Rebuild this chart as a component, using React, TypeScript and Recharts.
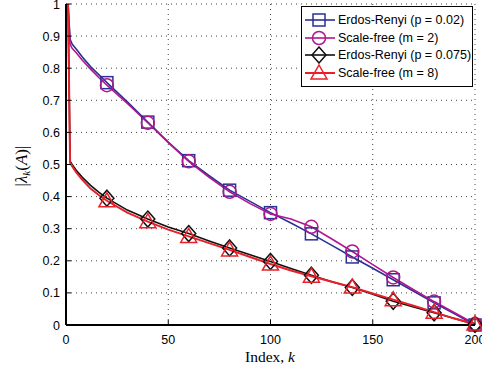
import React from "react";
import {
  LineChart,
  Line,
  XAxis,
  YAxis,
  CartesianGrid,
  Label,
} from "recharts";

document.body.style.margin = "0";

const kValues = [1, 2, 3, 5, 8, 12, 16, 20, 30, 40, 50, 60, 70, 80, 90, 100, 110, 120, 130, 140, 150, 160, 170, 180, 190, 200];

const erdos002 = [1.0, 0.89, 0.875, 0.86, 0.835, 0.805, 0.78, 0.755, 0.695, 0.632, 0.57, 0.512, 0.465, 0.42, 0.385, 0.35, 0.318, 0.284, 0.248, 0.212, 0.177, 0.141, 0.105, 0.069, 0.035, 0.0];
const scaleFree2 = [1.0, 0.875, 0.862, 0.848, 0.825, 0.797, 0.771, 0.747, 0.69, 0.63, 0.568, 0.51, 0.46, 0.415, 0.378, 0.346, 0.33, 0.306, 0.268, 0.229, 0.188, 0.148, 0.11, 0.073, 0.038, 0.003];
const erdos0075 = [1.0, 0.51, 0.5, 0.482, 0.46, 0.435, 0.414, 0.395, 0.358, 0.33, 0.305, 0.285, 0.262, 0.24, 0.219, 0.198, 0.176, 0.155, 0.135, 0.117, 0.096, 0.074, 0.056, 0.038, 0.02, 0.002];
const scaleFree8 = [1.0, 0.505, 0.495, 0.475, 0.452, 0.425, 0.405, 0.387, 0.35, 0.322, 0.297, 0.276, 0.255, 0.234, 0.212, 0.19, 0.17, 0.152, 0.135, 0.118, 0.098, 0.079, 0.06, 0.04, 0.02, 0.003];

const xTicks = [0, 50, 100, 150, 200];
const yTicks = [0, 0.1, 0.2, 0.3, 0.4, 0.5, 0.6, 0.7, 0.8, 0.9, 1];

const data = kValues.map((k, i) => ({
  k,
  er1: erdos002[i],
  sf1: scaleFree2[i],
  er2: erdos0075[i],
  sf2: scaleFree8[i],
}));

const SANS = "'Liberation Sans', Arial, Helvetica, sans-serif";
const SERIF = "'Liberation Serif', 'Times New Roman', serif";

type Shape = "square" | "circle" | "diamond" | "triangle";

const series: { key: string; name: string; color: string; shape: Shape; width: number }[] = [
  { key: "er1", name: "Erdos-Renyi (p = 0.02)", color: "#2b3193", shape: "square", width: 1.6 },
  { key: "sf1", name: "Scale-free (m = 2)", color: "#b0178f", shape: "circle", width: 1.6 },
  { key: "er2", name: "Erdos-Renyi (p = 0.075)", color: "#111111", shape: "diamond", width: 1.6 },
  { key: "sf2", name: "Scale-free (m = 8)", color: "#e8202a", shape: "triangle", width: 2 },
];

function Marker({ cx, cy, shape, color }: { cx: number; cy: number; shape: Shape; color: string }) {
  const common = { fill: "none", stroke: color, strokeWidth: 1.5 };
  if (shape === "square") return <rect x={cx - 6} y={cy - 6} width={12} height={12} {...common} />;
  if (shape === "circle") return <circle cx={cx} cy={cy} r={6.5} {...common} />;
  if (shape === "diamond")
    return <polygon points={`${cx},${cy - 8} ${cx + 7},${cy} ${cx},${cy + 8} ${cx - 7},${cy}`} {...common} />;
  return <polygon points={`${cx},${cy - 8} ${cx + 8},${cy + 6} ${cx - 8},${cy + 6}`} {...common} />;
}

const makeDot = (shape: Shape, color: string) => (props: any) => {
  const { cx, cy, payload, index } = props;
  if (payload.k % 20 !== 0) return <g key={`d-${index}`} />;
  return (
    <g key={`d-${index}`}>
      <Marker cx={cx} cy={cy} shape={shape} color={color} />
    </g>
  );
};

const BottomTick = (props: any) => {
  const { x, y, payload } = props;
  return (
    <g>
      <line x1={x} x2={x} y1={y} y2={y - 5} stroke="#000" />
      <text x={x} y={y + 19} textAnchor="middle" fontFamily={SANS} fontSize={12.5} fill="#000">
        {payload.value}
      </text>
    </g>
  );
};

const TopTick = (props: any) => {
  const { x, y } = props;
  return <line x1={x} x2={x} y1={y} y2={y + 5} stroke="#000" />;
};

const LeftTick = (props: any) => {
  const { x, y, payload } = props;
  return (
    <g>
      <line x1={x} x2={x + 5} y1={y} y2={y} stroke="#000" />
      <text x={x - 6} y={y + 4.5} textAnchor="end" fontFamily={SANS} fontSize={12.5} fill="#000">
        {payload.value}
      </text>
    </g>
  );
};

const RightTick = (props: any) => {
  const { x, y } = props;
  return <line x1={x} x2={x - 5} y1={y} y2={y} stroke="#000" />;
};

const LegendBox = () => (
  <div
    style={{
      position: "absolute",
      left: 301,
      top: 6,
      border: "1px solid #000",
      background: "#fff",
      width: 172,
      padding: "4px 0 4px 0",
      fontFamily: SANS,
      fontSize: 12.5,
      color: "#000",
      boxSizing: "border-box",
    }}
  >
    {series.map((s) => (
      <div key={s.key} style={{ display: "flex", alignItems: "center", height: 17.7, whiteSpace: "nowrap" }}>
        <svg width={32} height={18} style={{ marginLeft: 2, flexShrink: 0 }}>
          <line x1={1} x2={31} y1={9} y2={9} stroke={s.color} strokeWidth={s.width} />
          <Marker cx={15} cy={9} shape={s.shape} color={s.color} />
        </svg>
        <span style={{ marginLeft: 2 }}>{s.name}</span>
      </div>
    ))}
  </div>
);

const YLabel = () => (
  <text
    transform="translate(27,166) rotate(-90)"
    textAnchor="middle"
    fontFamily={SERIF}
    fontSize={17}
    fill="#000"
  >
    |<tspan fontStyle="italic">λ</tspan>
    <tspan fontStyle="italic" fontSize={11} dy={3}>k</tspan>
    <tspan dy={-3}>(</tspan>
    <tspan fontStyle="italic">A</tspan>)|
  </text>
);

const XLabel = () => (
  <text x={270} y={362} textAnchor="middle" fontFamily={SERIF} fontSize={15.5} fill="#000">
    Index, <tspan fontStyle="italic">k</tspan>
  </text>
);

export default function App() {
  return (
    <div style={{ position: "relative", width: 482, height: 377, background: "#fff" }}>
      <LineChart width={482} height={377} data={data} margin={{ top: 4, right: 7, bottom: 0, left: 0 }}>
        <CartesianGrid strokeDasharray="1 4" stroke="#444" />
        <XAxis
          dataKey="k"
          type="number"
          domain={[0, 200]}
          ticks={xTicks}
          interval={0}
          height={52}
          tickSize={0}
          tickMargin={0}
          tick={<BottomTick />}
          axisLine={{ stroke: "#000", strokeWidth: 2 }}
          tickLine={false}
        >
          <Label content={<XLabel />} />
        </XAxis>
        <XAxis
          xAxisId="top"
          orientation="top"
          dataKey="k"
          type="number"
          domain={[0, 200]}
          ticks={xTicks}
          interval={0}
          height={0}
          tickSize={0}
          tickMargin={0}
          tick={<TopTick />}
          axisLine={{ stroke: "#000", strokeWidth: 1.2 }}
          tickLine={false}
        />
        <YAxis
          type="number"
          domain={[0, 1]}
          ticks={yTicks}
          interval={0}
          width={66}
          tickSize={0}
          tickMargin={0}
          tick={<LeftTick />}
          axisLine={{ stroke: "#000", strokeWidth: 2 }}
          tickLine={false}
        >
          <Label content={<YLabel />} />
        </YAxis>
        <YAxis
          yAxisId="right"
          orientation="right"
          type="number"
          domain={[0, 1]}
          ticks={yTicks}
          interval={0}
          width={0}
          tickSize={0}
          tickMargin={0}
          tick={<RightTick />}
          axisLine={{ stroke: "#000", strokeWidth: 1.2 }}
          tickLine={false}
        />
        {series.map((s) => (
          <Line
            key={s.key}
            dataKey={s.key}
            name={s.name}
            type="linear"
            stroke={s.color}
            strokeWidth={s.width}
            dot={makeDot(s.shape, s.color)}
            activeDot={false}
            isAnimationActive={false}
          />
        ))}
      </LineChart>
      <LegendBox />
    </div>
  );
}
